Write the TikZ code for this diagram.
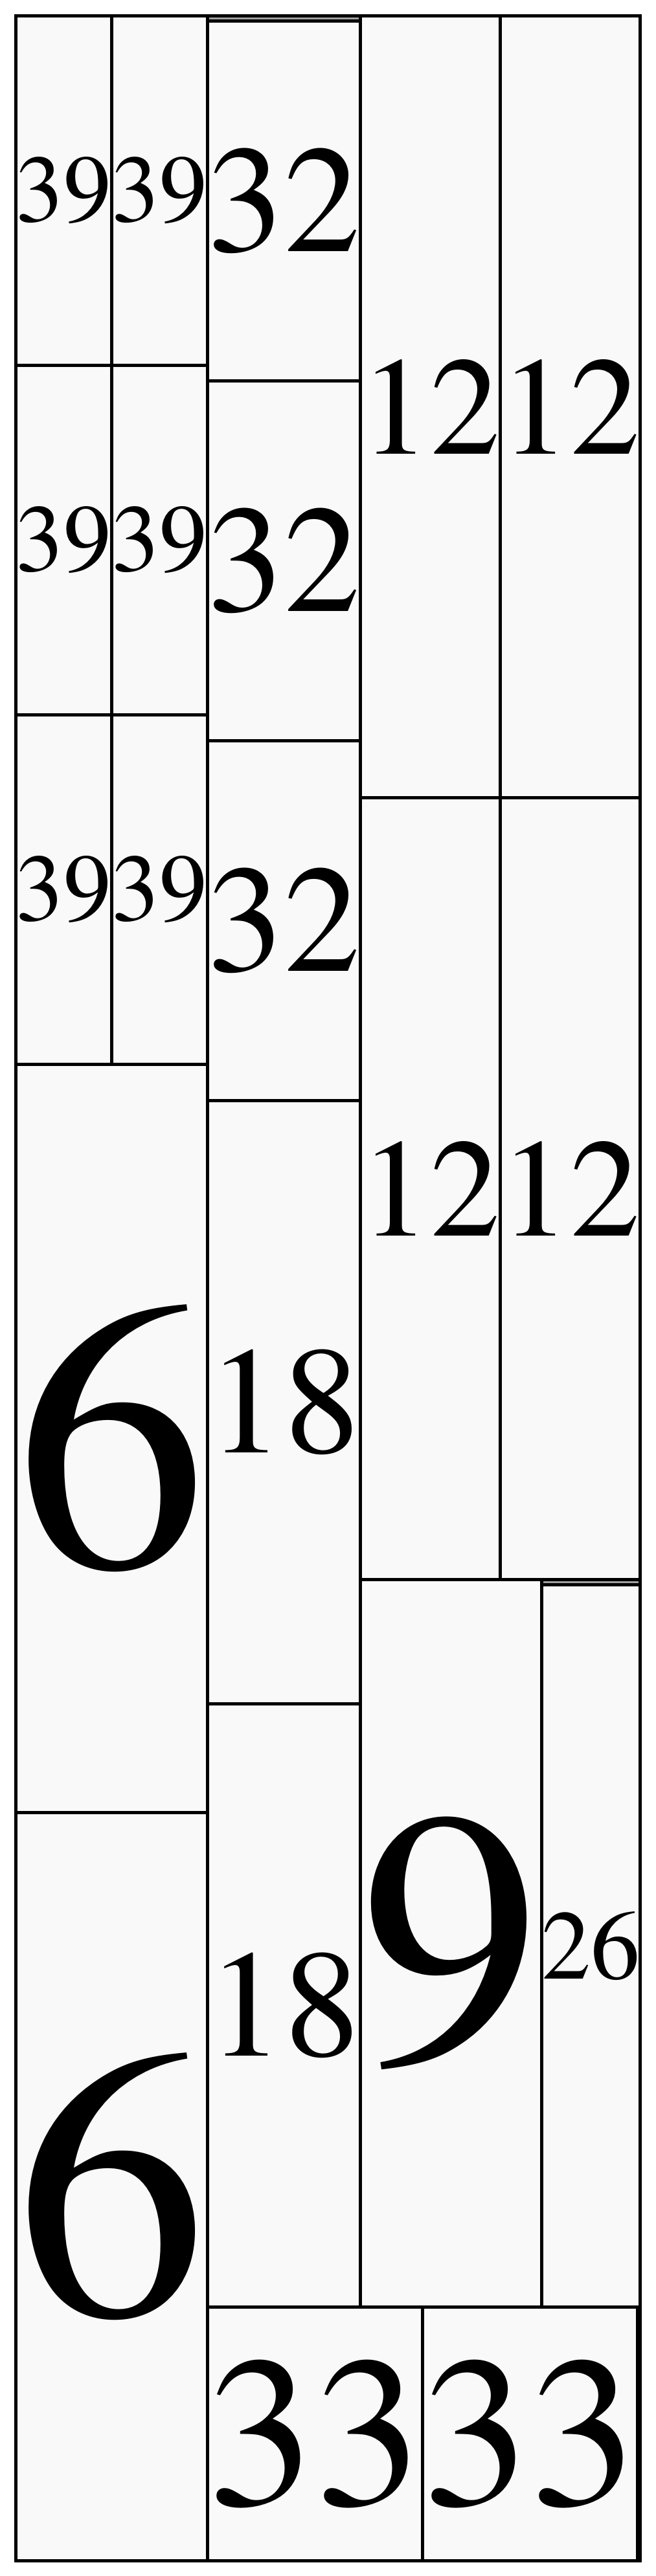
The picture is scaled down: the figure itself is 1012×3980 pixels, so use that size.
\documentclass[tikz,border=0pt]{standalone}
\usepackage{fontspec}
\setmainfont{TeX Gyre Termes}
\definecolor{itemfill}{HTML}{F9F9F9}
\definecolor{gapgrey}{HTML}{A0A0A0}
\newcommand{\fsz}[1]{\fontsize{#1pt}{#1pt}\selectfont}
\begin{document}
\begin{tikzpicture}[x=1pt,y=-1pt,
  bin/.style={draw=black, fill=gapgrey, line width=4.7pt, rectangle, inner sep=0pt, outer sep=0pt, anchor=north west},
  item/.style={draw=black, fill=itemfill, line width=4.7pt, rectangle, inner sep=0pt, outer sep=0pt, anchor=north west, text=black},
  sz/.style n args={2}{minimum width=#1pt, minimum height=#2pt}]
\useasboundingbox (0,0) rectangle (1012,3980);
\begin{scope}[shift={(24.35,24.35)}]
\node[bin, sz={964}{3932}] (bin) at (0,0) {};
% column 1-2 : 39
\node[item, sz={148}{540}, font=\fsz{148}] (a1) at (0,0) {39};
\node[item, sz={148}{540}, font=\fsz{148}] (a2) at (148,0) {39};
\node[item, sz={148}{540}, font=\fsz{148}] (a3) at (0,540) {39};
\node[item, sz={148}{540}, font=\fsz{148}] (a4) at (148,540) {39};
\node[item, sz={148}{540}, font=\fsz{148}] (a5) at (0,1080) {39};
\node[item, sz={148}{540}, font=\fsz{148}] (a6) at (148,1080) {39};
% 32
\node[item, sz={236}{556}, font=\fsz{236}] (b1) at (296,8) {32};
\node[item, sz={236}{556}, font=\fsz{236}] (b2) at (296,564) {32};
\node[item, sz={236}{556}, font=\fsz{236}] (b3) at (296,1120) {32};
% 12
\node[item, sz={216}{1208}, font=\fsz{216}] (c1) at (532,0) {12};
\node[item, sz={216}{1208}, font=\fsz{216}] (c2) at (748,0) {12};
\node[item, sz={216}{1208}, font=\fsz{216}] (c3) at (532,1208) {12};
\node[item, sz={216}{1208}, font=\fsz{216}] (c4) at (748,1208) {12};
% 6
\node[item, sz={296}{1156}, font=\fsz{592}] (d1) at (0,1620) {6};
\node[item, sz={296}{1156}, font=\fsz{592}] (d2) at (0,2776) {6};
% 18
\node[item, sz={236}{932}, font=\fsz{236}] (e1) at (296,1676) {18};
\node[item, sz={236}{932}, font=\fsz{236}] (e2) at (296,2608) {18};
% 9 and 26
\node[item, sz={280}{1124}, font=\fsz{560}] (f1) at (532,2416) {9};
\node[item, sz={152}{1116}, font=\fsz{152}] (g1) at (812,2424) {26};
% 33
\node[item, sz={332}{392}, font=\fsz{332}] (h1) at (296,3540) {33};
\node[item, sz={332}{392}, font=\fsz{332}] (h2) at (628,3540) {33};
\end{scope}
\end{tikzpicture}
\end{document}
